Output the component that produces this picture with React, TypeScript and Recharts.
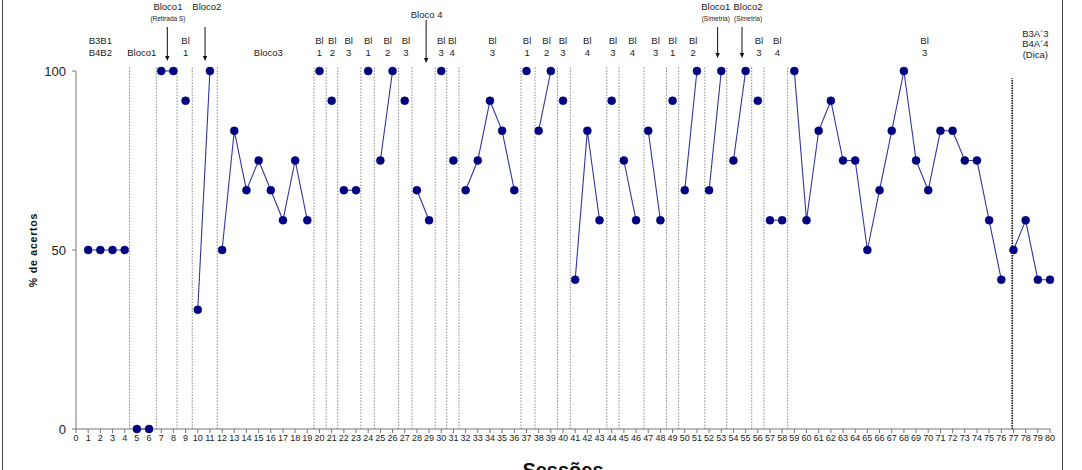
import { LineChart, Line, XAxis, YAxis, ReferenceLine, ReferenceDot } from 'recharts'

// % de acertos por sessão (sessões 1..80)
const VALUES = [
  50, 50, 50, 50, 0, 0, 100, 100, 91.7, 33.3,
  100, 50, 83.3, 66.7, 75, 66.7, 58.3, 75, 58.3, 100,
  91.7, 66.7, 66.7, 100, 75, 100, 91.7, 66.7, 58.3, 100,
  75, 66.7, 75, 91.7, 83.3, 66.7, 100, 83.3, 100, 91.7,
  41.7, 83.3, 58.3, 91.7, 75, 58.3, 83.3, 58.3, 91.7, 66.7,
  100, 66.7, 100, 75, 100, 91.7, 58.3, 58.3, 100, 58.3,
  83.3, 91.7, 75, 75, 50, 66.7, 83.3, 100, 75, 66.7,
  83.3, 83.3, 75, 75, 58.3, 41.7, 50, 58.3, 41.7, 41.7,
]

// dotted phase dividers (session units)
const PHASE_LINES = [
  4.4, 6.6, 8.3, 9.55, 11.6, 19.55, 20.55, 21.5, 23.4, 24.5, 26.5, 27.6, 29.5, 30.45,
  31.45, 36.55, 37.7, 39.55, 40.6, 43.6, 44.6, 46.65, 48.5, 49.5, 51.65, 53.45, 55.5,
  56.5, 58.45,
]
const CONDITION_LINE = 76.9

const X_TICKS = Array.from({ length: 81 }, (_, i) => i)
const Y_TICKS = [0, 50, 100]

// two-line block labels above the plot
const BLOCK_LABELS: { x: number; lines: string[] }[] = [
  { x: 2.0, lines: ['B3B1', 'B4B2'] },
  { x: 5.4, lines: ['', 'Bloco1'] },
  { x: 9.0, lines: ['Bl', '1'] },
  { x: 15.8, lines: ['', 'Bloco3'] },
  { x: 20.0, lines: ['Bl', '1'] },
  { x: 21.05, lines: ['Bl', '2'] },
  { x: 22.4, lines: ['Bl', '3'] },
  { x: 24.0, lines: ['Bl', '1'] },
  { x: 25.6, lines: ['Bl', '2'] },
  { x: 27.1, lines: ['Bl', '3'] },
  { x: 30.0, lines: ['Bl', '3'] },
  { x: 30.9, lines: ['Bl', '4'] },
  { x: 34.2, lines: ['Bl', '3'] },
  { x: 37.05, lines: ['Bl', '1'] },
  { x: 38.65, lines: ['Bl', '2'] },
  { x: 40.0, lines: ['Bl', '3'] },
  { x: 42.0, lines: ['Bl', '4'] },
  { x: 44.1, lines: ['Bl', '3'] },
  { x: 45.7, lines: ['Bl', '4'] },
  { x: 47.6, lines: ['Bl', '3'] },
  { x: 49.0, lines: ['Bl', '1'] },
  { x: 50.7, lines: ['Bl', '2'] },
  { x: 56.1, lines: ['Bl', '3'] },
  { x: 57.6, lines: ['Bl', '4'] },
  { x: 69.7, lines: ['Bl', '3'] },
]

// arrowed labels at the very top
const ARROW_LABELS: { x: number; arrowX: number; title: string; sub: string }[] = [
  { x: 7.55, arrowX: 7.5, title: 'Bloco1', sub: '(Retirada S)' },
  { x: 10.75, arrowX: 10.6, title: 'Bloco2', sub: '' },
  { x: 52.55, arrowX: 52.7, title: 'Bloco1', sub: '(Simetria)' },
  { x: 55.2, arrowX: 54.7, title: 'Bloco2', sub: '(Simetria)' },
]

const DICA_LABEL = { x: 78.8, lines: ['B3A´3', 'B4A´4', '(Dica)'] }
const BLOCO4_LABEL = { x: 28.8, title: 'Bloco 4' }

const FONT = 'Liberation Sans, Arial, sans-serif'
const TEXT = '#222'

// split the sessions into the connected runs between dividers
const allSplits = [...PHASE_LINES, CONDITION_LINE]
const segments: { x: number; y: number }[][] = []
VALUES.forEach((v, i) => {
  const x = i + 1
  const last = segments[segments.length - 1]
  const crossed = last && allSplits.some((s) => s > x - 1 && s < x)
  if (!last || crossed) segments.push([{ x, y: v }])
  else last.push({ x, y: v })
})

function Arrow({ cx, cy, top, bottom }: { cx: number; cy: number; top: number; bottom: number }) {
  return (
    <g>
      <line x1={cx} x2={cx} y1={cy + top} y2={cy + bottom - 4} stroke="#111" strokeWidth={1} />
      <path d={`M${cx - 2.2},${cy + bottom - 5} L${cx + 2.2},${cy + bottom - 5} L${cx},${cy + bottom} Z`} fill="#111" />
    </g>
  )
}

export default function App() {
  return (
    <div style={{ position: 'absolute', left: 0, top: 0, width: 1082, height: 470, overflow: 'hidden', background: '#fff' }}>
      <div
        style={{
          position: 'absolute',
          left: 2,
          top: -4,
          width: 1061,
          height: 480,
          border: '1.5px solid #444',
          boxSizing: 'border-box',
          pointerEvents: 'none',
        }}
      />
      <LineChart width={1082} height={470} margin={{ top: 71, right: 32, bottom: 0, left: 36 }} style={{ fontFamily: FONT }}>
        <XAxis
          dataKey="x"
          type="number"
          domain={[0, 80]}
          ticks={X_TICKS}
          interval={0}
          height={41}
          stroke="#777"
          tickSize={4}
          tickMargin={2}
          tick={{ fill: TEXT, fontSize: 9, fontFamily: FONT }}
          label={{
            content: ({ viewBox }: any) => (
              <text
                x={viewBox.x + viewBox.width / 2}
                y={477}
                textAnchor="middle"
                fontSize={20}
                fontWeight="bold"
                fill="#111"
                fontFamily={FONT}
              >
                Sessões
              </text>
            ),
          }}
        />
        <YAxis
          type="number"
          domain={[0, 100]}
          ticks={Y_TICKS}
          width={40}
          stroke="#777"
          tickSize={4}
          tickMargin={6}
          tick={{ fill: TEXT, fontSize: 13, fontFamily: FONT }}
          label={{
            content: ({ viewBox }: any) => (
              <text
                x={viewBox.x - 3}
                y={viewBox.y + viewBox.height / 2}
                transform={`rotate(-90, ${viewBox.x - 3}, ${viewBox.y + viewBox.height / 2})`}
                textAnchor="middle"
                dominantBaseline="central"
                fontSize={10.5}
                fontWeight="bold"
                letterSpacing={0.8}
                fill="#111"
                fontFamily={FONT}
              >
                % de acertos
              </text>
            ),
          }}
        />

        {PHASE_LINES.map((b) => (
          <ReferenceLine
            key={b}
            segment={[{ x: b, y: 0 }, { x: b, y: 101 }]}
            ifOverflow="visible"
            stroke="#8a8a8a"
            strokeDasharray="1.5 1.5"
            strokeWidth={1}
          />
        ))}
        <ReferenceLine
          segment={[{ x: CONDITION_LINE, y: 0 }, { x: CONDITION_LINE, y: 98 }]}
          ifOverflow="visible"
          stroke="#111"
          strokeDasharray="1.5 1"
          strokeWidth={1.6}
        />

        {BLOCK_LABELS.map((l, i) => (
          <ReferenceDot
            key={`b${i}`}
            x={l.x}
            y={100}
            r={0}
            ifOverflow="visible"
            shape={(p: any) => (
              <g fontFamily={FONT} fontSize={9.5} fill={TEXT} textAnchor="middle">
                <text x={p.cx} y={p.cy - 31} dominantBaseline="central">{l.lines[0]}</text>
                <text x={p.cx} y={p.cy - 19} dominantBaseline="central">{l.lines[1]}</text>
              </g>
            )}
          />
        ))}

        {ARROW_LABELS.map((l, i) => (
          <ReferenceDot
            key={`a${i}`}
            x={l.x}
            y={100}
            r={0}
            ifOverflow="visible"
            shape={(p: any) => (
              <g fontFamily={FONT} fill={TEXT} textAnchor="middle">
                <text x={p.cx} y={p.cy - 65} fontSize={9.5} dominantBaseline="central">{l.title}</text>
                <text x={p.cx} y={p.cy - 53} fontSize={6.5} dominantBaseline="central">{l.sub}</text>
              </g>
            )}
          />
        ))}
        {ARROW_LABELS.map((l, i) => (
          <ReferenceDot
            key={`ar${i}`}
            x={l.arrowX}
            y={100}
            r={0}
            ifOverflow="visible"
            shape={(p: any) => <Arrow cx={p.cx} cy={p.cy} top={-44} bottom={l.sub === '(Simetria)' ? -13 : -10} />}
          />
        ))}

        <ReferenceDot
          x={BLOCO4_LABEL.x}
          y={100}
          r={0}
          ifOverflow="visible"
          shape={(p: any) => (
            <g>
              <text x={p.cx} y={p.cy - 57} fontSize={9.5} fontFamily={FONT} fill={TEXT} textAnchor="middle" dominantBaseline="central">
                {BLOCO4_LABEL.title}
              </text>
              <Arrow cx={p.cx - 0.5} cy={p.cy} top={-51} bottom={-8} />
            </g>
          )}
        />

        <ReferenceDot
          x={DICA_LABEL.x}
          y={100}
          r={0}
          ifOverflow="visible"
          shape={(p: any) => (
            <g fontFamily={FONT} fontSize={9.5} fill={TEXT} textAnchor="middle">
              {DICA_LABEL.lines.map((t, k) => (
                <text key={t} x={p.cx} y={p.cy - 38 + k * 10.5} dominantBaseline="central">{t}</text>
              ))}
            </g>
          )}
        />

        {segments.map((seg, i) => (
          <Line
            key={`s${i}`}
            data={seg}
            dataKey="y"
            type="linear"
            stroke="#34349e"
            strokeWidth={1.1}
            dot={{ r: 4, fill: '#000080', stroke: '#000080', strokeWidth: 0.5 }}
            isAnimationActive={false}
          />
        ))}
      </LineChart>
    </div>
  )
}
